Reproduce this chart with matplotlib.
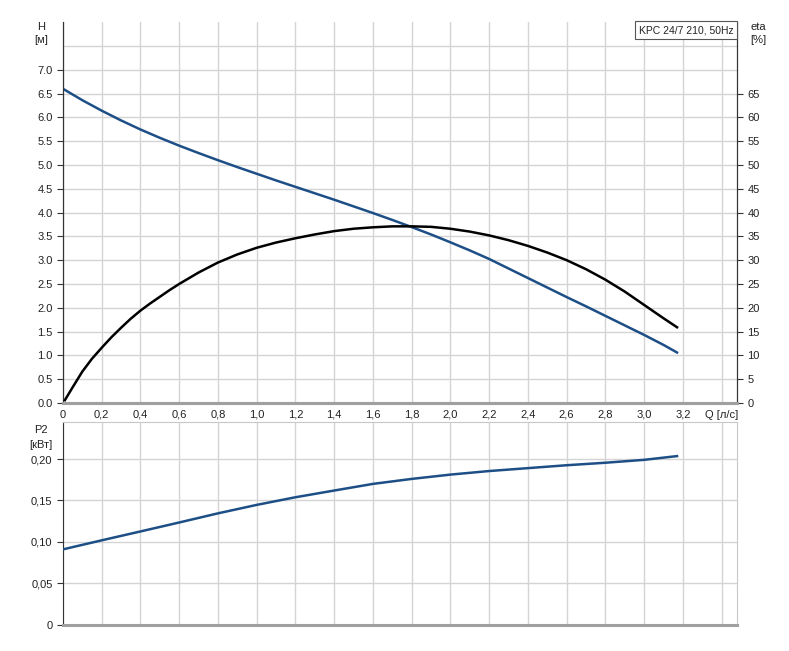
import matplotlib.pyplot as plt

plt.rcParams['font.family'] = ['Liberation Sans', 'DejaVu Sans']

# flow, head, efficiency, power
q_h = [0, 0.1, 0.2, 0.3, 0.4, 0.5, 0.6, 0.7, 0.8, 0.9, 1.0, 1.1, 1.2, 1.3, 1.4, 1.5, 1.6,
       1.7, 1.8, 1.9, 2.0, 2.1, 2.2, 2.3, 2.4, 2.5, 2.6, 2.7, 2.8, 2.9, 3.0, 3.1, 3.17]
head = [6.6, 6.36, 6.14, 5.935, 5.745, 5.57, 5.405, 5.25, 5.10, 4.955, 4.815, 4.675, 4.54,
        4.405, 4.27, 4.13, 3.99, 3.845, 3.695, 3.54, 3.375, 3.205, 3.025, 2.825, 2.625,
        2.425, 2.225, 2.03, 1.83, 1.63, 1.43, 1.22, 1.06]

q_eta = [0.01, 0.05, 0.1, 0.15, 0.2, 0.25, 0.3, 0.35, 0.4, 0.45, 0.5, 0.55, 0.6, 0.7, 0.8,
         0.9, 1.0, 1.1, 1.2, 1.3, 1.4, 1.5, 1.6, 1.7, 1.8, 1.9, 2.0, 2.1, 2.2, 2.3, 2.4,
         2.5, 2.6, 2.7, 2.8, 2.9, 3.0, 3.1, 3.17]
eta = [0.6, 3.3, 6.6, 9.3, 11.6, 13.8, 15.8, 17.7, 19.4, 20.9, 22.3, 23.7, 25.0, 27.4,
       29.5, 31.2, 32.6, 33.7, 34.6, 35.4, 36.1, 36.6, 36.9, 37.1, 37.1, 37.0, 36.6, 36.0,
       35.2, 34.2, 33.0, 31.6, 30.0, 28.1, 25.9, 23.4, 20.6, 17.8, 15.9]

q_p = [0, 0.2, 0.4, 0.6, 0.8, 1.0, 1.2, 1.4, 1.6, 1.8, 2.0, 2.2, 2.4, 2.6, 2.8, 3.0, 3.17]
p2 = [0.0911, 0.102, 0.1127, 0.1235, 0.1345, 0.1447, 0.1539, 0.162, 0.1700, 0.176,
      0.1812, 0.1855, 0.189, 0.1925, 0.1955, 0.199, 0.2035]

x_ticks = [i * 0.2 for i in range(18)]
x_labels = ['0'] + [f'{v:.1f}'.replace('.', ',') for v in x_ticks[1:-1]] + ['Q [л/с]']

BLUE = '#1d4f86'
GRID = '#d4d4d4'
TXT = '#222222'
FS = 8

fig = plt.figure(figsize=(7.89, 6.51), dpi=100)
ax = fig.add_axes([0.0798, 0.381, 0.8544, 0.585])
ax2 = ax.twinx()
bx = fig.add_axes([0.0798, 0.040, 0.8544, 0.311])

# top chart
ax.plot(q_h, head, color=BLUE, lw=1.8, zorder=3)
ax2.plot(q_eta, eta, color='black', lw=1.8, zorder=3)
ax.set_xlim(0, 3.48)
ax.set_ylim(0, 8)
ax2.set_ylim(0, 80)
ax.set_yticks([i * 0.5 for i in range(15)])
ax.set_yticklabels([f'{i * 0.5:.1f}' for i in range(15)])
ax.set_yticks([7.5], minor=True)
ax2.set_yticks([i * 5 for i in range(14)])
ax.set_xticks(x_ticks)
ax.set_xticklabels(x_labels)
ax.set_xticks([3.4], minor=True)
ax.grid(True, which='both', color=GRID, lw=1)
ax.set_axisbelow(True)
ax.tick_params(axis='x', which='major', length=0, pad=5, labelsize=FS, labelcolor=TXT)
ax.tick_params(axis='x', which='minor', length=4, color='#333333', width=1)
ax.tick_params(axis='y', which='major', length=4, color='#333333', labelsize=FS, labelcolor=TXT)
ax.tick_params(axis='y', which='minor', length=0)
ax2.tick_params(axis='y', length=4, color='#333333', labelsize=FS, labelcolor=TXT)
for a in (ax, ax2):
    a.spines['top'].set_visible(False)
    a.spines['bottom'].set_color('#a0a0a0')
    a.spines['bottom'].set_linewidth(2.2)
    a.spines['left'].set_color('#333333')
    a.spines['right'].set_color('#333333')
ax2.annotate('KPC 24/7 210, 50Hz', xy=(1, 1), xycoords='axes fraction',
             xytext=(-3.5, -3), textcoords='offset pixels', ha='right', va='top',
             fontsize=7.5, color=TXT, zorder=5,
             bbox=dict(boxstyle='square,pad=0.35', facecolor='white', edgecolor='#555555', lw=0.8))
fig.text(41 / 789, 1 - 27 / 651, 'H', ha='center', va='center', fontsize=FS, color=TXT)
fig.text(41 / 789, 1 - 40 / 651, '[м]', ha='center', va='center', fontsize=FS, color=TXT)
fig.text(758 / 789, 1 - 27 / 651, 'eta', ha='center', va='center', fontsize=FS, color=TXT)
fig.text(758 / 789, 1 - 40 / 651, '[%]', ha='center', va='center', fontsize=FS, color=TXT)

# bottom chart
bx.plot(q_p, p2, color=BLUE, lw=1.8, zorder=3)
bx.set_xlim(0, 3.48)
bx.set_ylim(0, 0.244)
bx.set_xticks(x_ticks)
bx.set_xticklabels([])
bx.set_yticks([0, 0.05, 0.10, 0.15, 0.20])
bx.set_yticklabels(['0', '0,05', '0,10', '0,15', '0,20'])
bx.grid(True, color=GRID, lw=1)
bx.set_axisbelow(True)
bx.tick_params(axis='x', length=0)
bx.tick_params(axis='y', length=4, color='#333333', labelsize=FS, labelcolor=TXT)
bx.spines['top'].set_color('#c8c8c8')
bx.spines['right'].set_color('#c8c8c8')
bx.spines['bottom'].set_color('#a0a0a0')
bx.spines['bottom'].set_linewidth(2.2)
bx.spines['left'].set_color('#333333')
fig.text(41 / 789, 1 - 430 / 651, 'P2', ha='center', va='center', fontsize=FS, color=TXT)
fig.text(41 / 789, 1 - 445 / 651, '[кВт]', ha='center', va='center', fontsize=FS, color=TXT)

fig.savefig('out.png', dpi=100)
